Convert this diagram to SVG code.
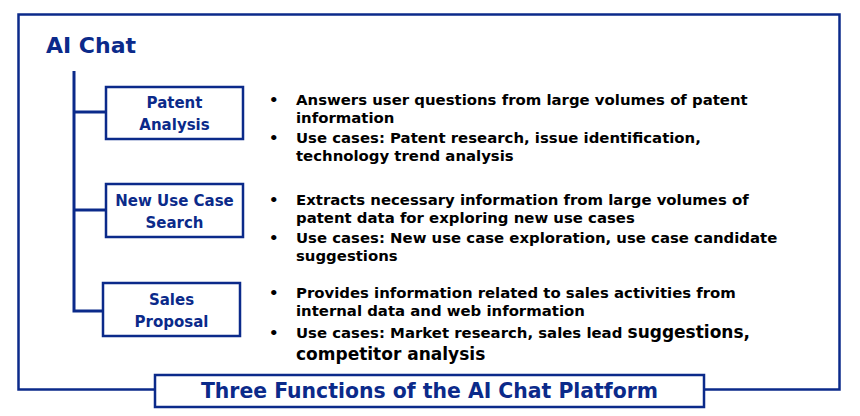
<svg xmlns="http://www.w3.org/2000/svg" width="860" height="416" viewBox="0 0 860 416">
<style>
.frame{fill:none;stroke:#0b2a8a;stroke-width:2.5}
.box{fill:#fff;stroke:#0b2a8a;stroke-width:2.5}
.conn{fill:none;stroke:#0b2a8a;stroke-width:3}
.lbl{font-family:"DejaVu Sans",Verdana,sans-serif;font-weight:bold;font-size:15px;fill:#0b2a8a;text-anchor:middle}
.head{font-family:"DejaVu Sans",Verdana,sans-serif;font-weight:bold;font-size:22px;fill:#0b2a8a}
.title{font-family:"DejaVu Sans",Verdana,sans-serif;font-weight:bold;font-size:20.4px;fill:#0b2a8a;text-anchor:middle}
.desc{font-family:"DejaVu Sans",Verdana,sans-serif;font-weight:bold;font-size:14.9px;fill:#000}
.big{font-size:17px}
</style>
<rect class="frame" x="18.5" y="14.5" width="821" height="375"/>
<text class="head" x="46" y="53">AI Chat</text>
<g id="connectors">
<path class="conn" d="M74,71 V311 H103"/>
<path class="conn" d="M74,112 H106"/>
<path class="conn" d="M74,210 H106"/>
</g>
<g id="patent-analysis">
<rect class="box" x="106" y="87" width="137" height="52"/>
<text class="lbl" x="174.5" y="108">Patent</text>
<text class="lbl" x="174.5" y="130">Analysis</text>
</g>
<g id="new-use-case-search">
<rect class="box" x="106" y="184" width="137" height="53"/>
<text class="lbl" x="174.5" y="206">New Use Case</text>
<text class="lbl" x="174.5" y="228">Search</text>
</g>
<g id="sales-proposal">
<rect class="box" x="103" y="283" width="137" height="53"/>
<text class="lbl" x="171.5" y="305">Sales</text>
<text class="lbl" x="171.5" y="327">Proposal</text>
</g>
<g id="desc-patent">
<text class="desc" x="269" y="105">•</text>
<text class="desc" x="296" y="105">Answers user questions from large volumes of patent</text>
<text class="desc" x="296" y="123">information</text>
<text class="desc" x="269" y="143">•</text>
<text class="desc" x="296" y="143">Use cases: Patent research, issue identification,</text>
<text class="desc" x="296" y="161">technology trend analysis</text>
</g>
<g id="desc-newuse">
<text class="desc" x="269" y="205">•</text>
<text class="desc" x="296" y="205">Extracts necessary information from large volumes of</text>
<text class="desc" x="296" y="223">patent data for exploring new use cases</text>
<text class="desc" x="269" y="243">•</text>
<text class="desc" x="296" y="243">Use cases: New use case exploration, use case candidate</text>
<text class="desc" x="296" y="261">suggestions</text>
</g>
<g id="desc-sales">
<text class="desc" x="269" y="298">•</text>
<text class="desc" x="296" y="298">Provides information related to sales activities from</text>
<text class="desc" x="296" y="316">internal data and web information</text>
<text class="desc" x="269" y="338">•</text>
<text class="desc" x="296" y="338">Use cases: Market research, sales lead <tspan class="big">suggestions,</tspan></text>
<text class="desc big" x="296" y="360">competitor analysis</text>
</g>
<g id="platform-title">
<rect class="box" x="155" y="375" width="549" height="32"/>
<text class="title" x="429.5" y="398">Three Functions of the AI Chat Platform</text>
</g>
</svg>
